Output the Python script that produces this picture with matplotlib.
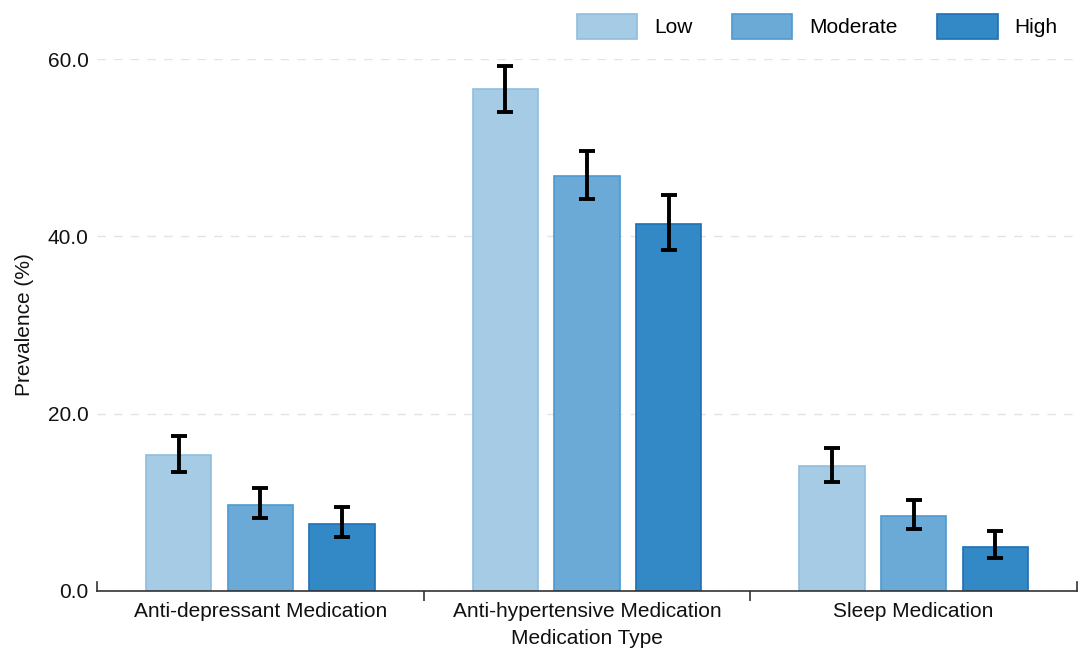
import matplotlib
matplotlib.use("Agg")
import matplotlib.pyplot as plt
import numpy as np
from matplotlib.patches import Patch

plt.rcParams['font.family'] = ['Liberation Sans', 'DejaVu Sans']

categories = ["Anti-depressant Medication", "Anti-hypertensive Medication", "Sleep Medication"]
levels = ["Low", "Moderate", "High"]
values = {
    "Low": [15.3, 56.6, 14.1],
    "Moderate": [9.7, 46.8, 8.4],
    "High": [7.6, 41.4, 5.0],
}
err_low = {
    "Low": [13.4, 54.0, 12.3],
    "Moderate": [8.2, 44.2, 7.0],
    "High": [6.1, 38.5, 3.7],
}
err_high = {
    "Low": [17.5, 59.2, 16.1],
    "Moderate": [11.6, 49.6, 10.3],
    "High": [9.5, 44.7, 6.8],
}
yticks = [0, 20, 40, 60]

fills = {"Low": "#a6cbe5", "Moderate": "#6baad6", "High": "#3388c6"}
edges = {"Low": "#8fbde0", "Moderate": "#4d9ad0", "High": "#1f6fb4"}

fig = plt.figure(figsize=(10.8, 6.52), dpi=100)
ax = fig.add_axes([0.0898, 0.0936, 0.9074, 0.8159])

x = np.arange(len(categories))
width = 0.2
offsets = {"Low": -0.25, "Moderate": 0.0, "High": 0.25}

for lev in levels:
    v = np.array(values[lev])
    lo = v - np.array(err_low[lev])
    hi = np.array(err_high[lev]) - v
    ax.bar(x + offsets[lev], v, width, color=fills[lev], edgecolor=edges[lev],
           linewidth=1.2, zorder=2)
    ax.errorbar(x + offsets[lev], v, yerr=[lo, hi], fmt='none', ecolor='black',
                elinewidth=2.8, capsize=5.5, capthick=2.8, zorder=3)

ax.set_xlim(-0.5, 2.5)
ax.set_ylim(0, 60)
ax.set_yticks(yticks)
ax.set_yticklabels([f"{t:.1f}" for t in yticks])
ax.set_xticks(x)
ax.set_xticklabels(categories)
ax.tick_params(axis='x', length=0, labelsize=15, pad=8, colors='#111111')
ax.tick_params(axis='y', length=0, labelsize=15, pad=6, colors='#111111')
ax.set_xticks([0.5, 1.5], minor=True)
ax.tick_params(axis='x', which='minor', length=7, width=1.2, color='#333333', direction='out')

for s in ['top', 'right', 'left']:
    ax.spines[s].set_visible(False)
ax.spines['bottom'].set_color('#333333')
ax.spines['bottom'].set_linewidth(1.2)

# end marks
for xe in [-0.5, 2.5]:
    ax.plot([xe, xe], [0, 1.0], color='#333333', lw=1.2, clip_on=False, zorder=4)

ax.yaxis.grid(True, linestyle=(0, (6, 6)), color='#e3e3e3', linewidth=1.0, zorder=0)
ax.set_axisbelow(True)

ax.set_xlabel("Medication Type", fontsize=15, labelpad=6, color='#111111')
ax.set_ylabel("Prevalence (%)", fontsize=15, labelpad=10, color='#111111')

handles = [Patch(facecolor=fills[l], edgecolor=edges[l], linewidth=1.2) for l in levels]
leg = fig.legend(handles, levels, loc='center right', bbox_to_anchor=(0.979, 0.9594), ncol=3,
                 frameon=False, fontsize=15, handlelength=2.9, handleheight=1.5,
                 columnspacing=1.9, handletextpad=0.8, borderpad=0, borderaxespad=0)

fig.savefig("out.png", dpi=100)
